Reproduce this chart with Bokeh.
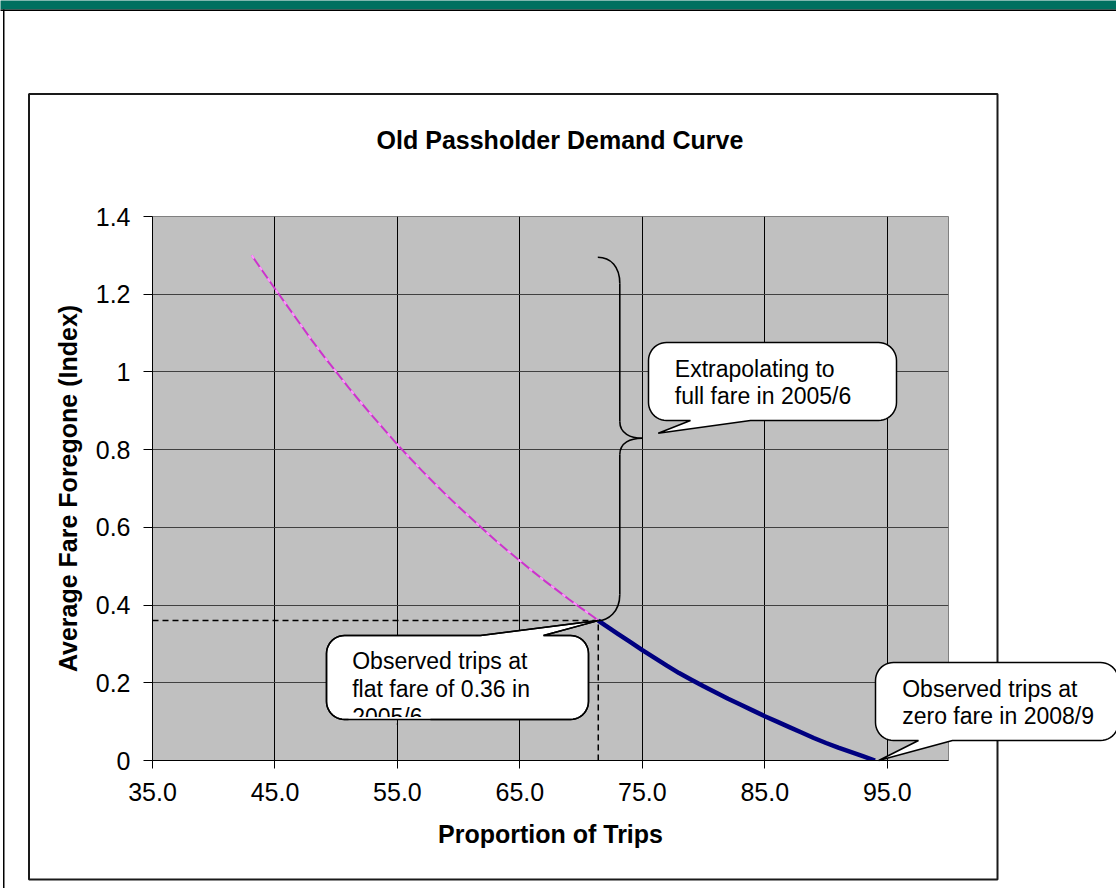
import numpy as np
from bokeh.plotting import figure
from bokeh.models import Range1d, FixedTicker, NumeralTickFormatter
from bokeh.embed import file_html
from bokeh.resources import INLINE
from bokeh.core.properties import value

# ---------------- data ----------------
extrap_x = [43.1, 44, 45, 46, 47, 48, 49, 50, 51, 52, 53, 54, 55, 56, 57, 58, 59, 60,
            61, 62, 63, 64, 65, 66, 67, 68, 69, 70, 71, 71.4]
extrap_y = [1.300, 1.259, 1.214, 1.170, 1.126, 1.082, 1.040, 1.000, 0.960, 0.922, 0.885,
            0.849, 0.813, 0.779, 0.746, 0.714, 0.683, 0.653, 0.624, 0.595, 0.567, 0.540,
            0.514, 0.488, 0.463, 0.439, 0.415, 0.392, 0.370, 0.360]
observed_x = [71.4, 72, 73, 74, 75, 76, 77, 78, 79, 80, 81, 82, 83, 84, 85, 86, 87, 88,
              89, 90, 91, 92, 93, 94]
observed_y = [0.360, 0.347, 0.326, 0.305, 0.284, 0.264, 0.244, 0.225, 0.208, 0.191, 0.175,
              0.159, 0.144, 0.129, 0.114, 0.100, 0.086, 0.072, 0.058, 0.045, 0.033, 0.022,
              0.011, 0.000]
flat_trips = 71.4
flat_fare = 0.36
zero_fare_trips = 94.3
x_ticks = [35, 45, 55, 65, 75, 85, 95]
y_ticks = [0, 0.2, 0.4, 0.6, 0.8, 1.0, 1.2, 1.4]
x_min, x_max = 35, 100
y_min, y_max = 0, 1.4

title_text = "Old Passholder Demand Curve"
x_label = "Proportion of Trips"
y_label = "Average Fare Foregone (Index)"
note_extrap = ["Extrapolating to", "full fare in 2005/6"]
note_flat = ["Observed trips at", "flat fare of 0.36 in", "2005/6"]
note_zero = ["Observed trips at", "zero fare in 2008/9"]

# ---------------- layout (page pixels) ----------------
OFF = 8                      # canvas is shifted up/left by the page margin
PAGE_W, PAGE_H = 1116, 888
W, H = PAGE_W + OFF, PAGE_H + OFF
FL, FR, FT, FB = 152, 948, 216, 760   # plot frame in page pixels
FONT = "Liberation Sans"


def dx(px):
    return x_min + (px - FL) * (x_max - x_min) / (FR - FL)


def dy(py):
    return y_min + (FB - py) * (y_max - y_min) / (FB - FT)


def sx(x):
    return FL + (x - x_min) * (FR - FL) / (x_max - x_min)


def sy(y):
    return FB - (y - y_min) * (FB - FT) / (y_max - y_min)


p = figure(width=W, height=H, output_backend="svg", toolbar_location=None,
           x_range=Range1d(x_min, x_max), y_range=Range1d(y_min, y_max),
           min_border_left=FL + OFF, min_border_right=W - (FR + OFF),
           min_border_top=FT + OFF, min_border_bottom=H - (FB + OFF),
           background_fill_color="#C0C0C0", border_fill_color="white",
           outline_line_color="#808080", outline_line_width=1,
           styles={"margin-left": "-8px", "margin-top": "-8px"})

# axes
for ax in (p.xaxis[0], p.yaxis[0]):
    ax.axis_line_color = "black"
    ax.major_tick_line_color = "black"
    ax.minor_tick_line_color = None
    ax.major_tick_in = 0
    ax.major_label_text_font = FONT
    ax.major_label_text_font_size = "25px"
    ax.major_label_text_color = "black"
    ax.axis_label_text_font = FONT
    ax.axis_label_text_font_size = "25px"
    ax.axis_label_text_font_style = "bold"
    ax.axis_label_text_color = "black"

p.xaxis.ticker = FixedTicker(ticks=x_ticks)
p.yaxis.ticker = FixedTicker(ticks=y_ticks)
p.xaxis.formatter = NumeralTickFormatter(format="0.0")
p.yaxis.formatter = NumeralTickFormatter(format="0.[0]")
p.xaxis.major_tick_out = 8
p.yaxis.major_tick_out = 9
p.xaxis.major_label_standoff = 14
p.yaxis.major_label_standoff = 13
p.xaxis.axis_label = x_label
p.yaxis.axis_label = y_label
p.xaxis.axis_label_standoff = 16
p.yaxis.axis_label_standoff = 11

p.xgrid.grid_line_color = "black"
p.ygrid.grid_line_color = "#404040"

# ---------------- series ----------------
p.line([x_min, flat_trips], [flat_fare, flat_fare], line_color="black", line_width=1.5, line_dash="6 4")
p.line([flat_trips, flat_trips], [y_min, flat_fare], line_color="black", line_width=1.5, line_dash="6 4")
p.line(extrap_x, extrap_y, line_color="#CC33CC", line_width=2)
p.line(extrap_x, extrap_y, line_color="#FF99FF", line_width=2, line_dash="4 10")
p.line(observed_x, observed_y, line_color="#000080", line_width=4.5)

# ---------------- brace ----------------
tipx, tipy = sx(flat_trips), sy(flat_fare)
stem = 619.3
b_tip = (641.7, 437.7)
bez = [
    ((597.3, 256.7), (stem, 283), (610, 256.7), (stem, 266)),
    ((stem, 421), b_tip, (stem, 433), (630, b_tip[1])),
    (b_tip, (stem, 454), (630, b_tip[1]), (stem, 442)),
    ((stem, 594), (tipx, tipy), (stem, 612), (607, tipy)),
]
p.bezier(x0=[dx(b[0][0]) for b in bez], y0=[dy(b[0][1]) for b in bez],
         x1=[dx(b[1][0]) for b in bez], y1=[dy(b[1][1]) for b in bez],
         cx0=[dx(b[2][0]) for b in bez], cy0=[dy(b[2][1]) for b in bez],
         cx1=[dx(b[3][0]) for b in bez], cy1=[dy(b[3][1]) for b in bez],
         line_color="black", line_width=1.6)
p.segment(x0=[dx(stem), dx(stem)], y0=[dy(283), dy(454)], x1=[dx(stem), dx(stem)], y1=[dy(421), dy(594)],
          line_color="black", line_width=1.6)


# ---------------- decorations drawn on the overlay level ----------------
def rect(l, t, r, b, **kw):
    kw.setdefault("level", "overlay")
    p.patch([dx(l), dx(r), dx(r), dx(l)], [dy(t), dy(t), dy(b), dy(b)], **kw)


rect(0, 0, PAGE_W, 9, fill_color="#007060", line_color=None)
rect(0, 9, PAGE_W, 10.5, fill_color="black", line_color=None)
rect(2.5, 9, 4, PAGE_H, fill_color="black", line_color=None)
rect(28.5, 93.5, 997, 879, fill_alpha=0, line_color="#1a1a1a", line_width=2)


def callout(left, top, right, bottom, r, side, base_a, base_b, tip):
    n = 12

    def arc(cx, cy, t0, t1):
        t = np.linspace(t0, t1, n)
        return list(zip(cx + r * np.cos(t), cy + r * np.sin(t)))

    pts = []
    pts += arc(left + r, top + r, np.pi, 1.5 * np.pi)
    if side == "top":
        pts += [(base_a, top), tip, (base_b, top)]
    pts += arc(right - r, top + r, 1.5 * np.pi, 2 * np.pi)
    pts += arc(right - r, bottom - r, 0, 0.5 * np.pi)
    if side == "bottom":
        pts += [(base_b, bottom), tip, (base_a, bottom)]
    pts += arc(left + r, bottom - r, 0.5 * np.pi, np.pi)
    return [dx(a) for a, b in pts], [dy(b) for a, b in pts]


c1 = callout(648, 342, 896, 420, 18, "bottom", 690, 750, (657.7, 432.7))
c2 = callout(326, 635, 588, 719, 18, "top", 480, 543, (tipx, tipy))
c3 = callout(875, 662, 1118, 740, 18, "bottom", 918, 952, (sx(zero_fare_trips), sy(0)))

for xs, ys in (c1, c2, c3):
    p.patch(xs, ys, fill_color="white", line_color="black", line_width=1.5, level="overlay")


def text(px, py, t, size="23px", style="normal", align="left"):
    p.text(x=[dx(px)], y=[dy(py)], text=[t], text_font=value(FONT), text_font_size=value(size),
           text_font_style=value(style), text_align=align, text_baseline="middle",
           text_color="black", level="overlay")


for i, t in enumerate(note_extrap):
    text(674.3, 368.3 + 26.7 * i, t)
for i, t in enumerate(note_flat):
    text(351.7, 660 + 28 * i, t)
for i, t in enumerate(note_zero):
    text(901.7, 688 + 27 * i, t)

# clip the overflowing last line of the flat-fare callout
gx = sx(55)
rect(348, 716.5, 430, 719, fill_color="white", line_color=None)
rect(348, 719, gx - 0.6, 733, fill_color="#C0C0C0", line_color=None)
rect(gx + 0.6, 719, 430, 733, fill_color="#C0C0C0", line_color=None)
p.patch(c2[0], c2[1], fill_alpha=0, line_color="black", line_width=1.5, level="overlay")

# title
text(559.5, 139, title_text, size="25px", style="bold", align="center")

open("out.html", "w").write(file_html(p, INLINE))
